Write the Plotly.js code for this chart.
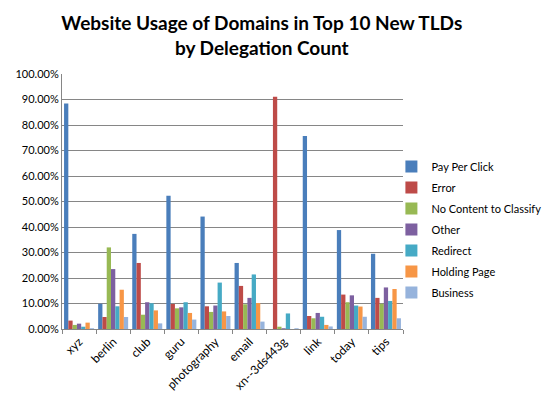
<!DOCTYPE html>
<html><head><meta charset="utf-8">
<script src="https://cdn.plot.ly/plotly-3.0.1.min.js"></script>
<style>body{margin:0;background:#fff}#c{width:550px;height:398px}</style>
</head><body><div id="c"></div>
<script>
const categories = ["xyz","berlin","club","guru","photography","email","xn--3ds443g","link","today","tips"];
const payPerClick = [0.884,0.099,0.373,0.523,0.441,0.259,0.0,0.757,0.388,0.295];
const errorVals   = [0.033,0.047,0.259,0.098,0.089,0.169,0.911,0.051,0.135,0.122];
const noContent   = [0.016,0.320,0.056,0.081,0.067,0.097,0.009,0.042,0.105,0.099];
const other       = [0.021,0.235,0.105,0.085,0.092,0.122,0.003,0.063,0.132,0.163];
const redirect    = [0.009,0.089,0.101,0.105,0.182,0.214,0.061,0.048,0.092,0.110];
const holdingPage = [0.025,0.154,0.073,0.063,0.069,0.102,0.0,0.016,0.088,0.157];
const business    = [0.003,0.047,0.022,0.037,0.051,0.029,0.003,0.010,0.048,0.042];
const seriesNames = ["Pay Per Click","Error","No Content to Classify","Other","Redirect","Holding Page","Business"];
const seriesVals = [payPerClick,errorVals,noContent,other,redirect,holdingPage,business];
const colors = ["#4A7EBB","#BE4B48","#98B954","#7D60A0","#46AAC5","#F79646","#96B3DC"];
const traces = seriesNames.map((n,i)=>({type:'bar',name:n,legendgroup:'g'+i,x:categories,y:seriesVals[i],marker:{color:colors[i]}}));
const layout = {
  width:550,height:398,
  margin:{l:62,r:147,t:74,b:69,autoexpand:false},
  paper_bgcolor:'#fff',plot_bgcolor:'#fff',
  font:{family:'Lato, "Open Sans", sans-serif',color:'#000'},
  title:{text:'<b>Website Usage of Domains in Top 10 New TLDs<br>by Delegation Count</b>',x:0.476,xanchor:'center',y:0.925,yanchor:'top',font:{size:19,color:'#000'}},
  barmode:'group',bargap:0.12,bargroupgap:0,
  xaxis:{type:'category',tickangle:-45,tickfont:{size:12},showline:true,linecolor:'#868686',ticks:'outside',tickson:'boundaries',ticklen:4,tickcolor:'#868686',showgrid:false},
  yaxis:{range:[0,1],dtick:0.1,tickformat:'.2%',tickfont:{size:11},showgrid:true,gridcolor:'#868686',gridwidth:1,showline:true,linecolor:'#868686',ticks:'',zeroline:false},
  legend:{x:0.966,xanchor:'left',y:0.39,yanchor:'middle',font:{size:11},tracegroupgap:2,itemwidth:30,bgcolor:'rgba(0,0,0,0)'}
};
Plotly.newPlot('c',traces,layout,{displayModeBar:false,staticPlot:true});
</script></body></html>
